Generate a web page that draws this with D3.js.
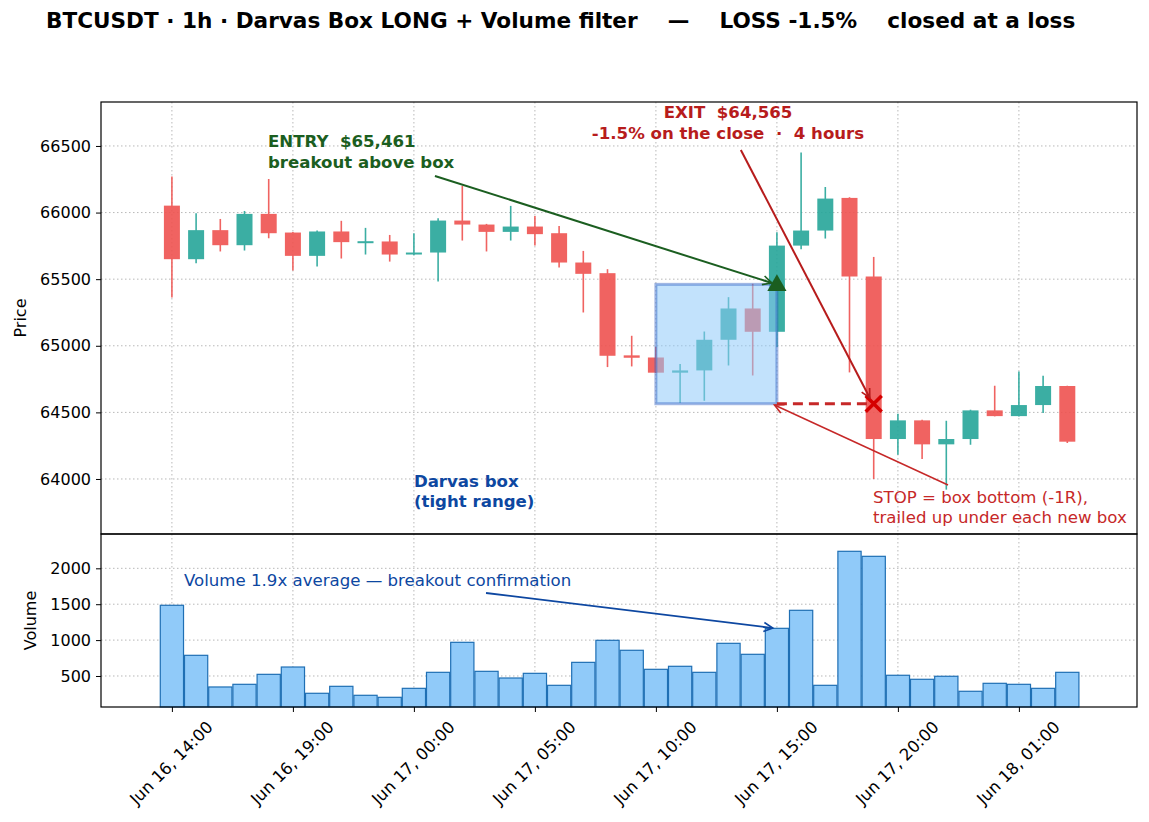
<!DOCTYPE html>
<html>
<head>
<meta charset="utf-8">
<script src="https://cdn.jsdelivr.net/npm/d3@7"></script>
<style>
  body { margin: 0; background: #fff; }
  svg { font-family: 'DejaVu Sans', sans-serif; }
</style>
</head>
<body>
<div id="chart"></div>
<script>
// hourly candles, Jun 16 14:00 -> Jun 18 03:00
const opens  = [66052, 65650, 65868, 65755, 65990, 65850, 65675, 65858, 65778, 65783,
                65685, 65700, 65940, 65910, 65855, 65895, 65845, 65625, 65545, 64928,
                64912, 64798, 64815, 65045, 65280, 65105, 65752, 65865, 66110, 65520,
                64300, 64440, 64260, 64300, 64515, 64472, 64555, 64698];
const highs  = [66270, 65995, 65952, 66012, 66252, 65855, 65865, 65938, 65885, 65832,
                65845, 65957, 66200, 65915, 66050, 65975, 65900, 65712, 65575, 65075,
                64990, 64863, 65107, 65365, 65465, 65852, 66450, 66192, 66115, 65667,
                64490, 64445, 64437, 64520, 64700, 64807, 64775, 64700];
const lows   = [65362, 65620, 65708, 65715, 65807, 65565, 65595, 65655, 65685, 65632,
                65680, 65482, 65790, 65708, 65790, 65752, 65588, 65250, 64840, 64845,
                64795, 64570, 64587, 64852, 64777, 64990, 65725, 65805, 64800, 64000,
                64182, 64150, 63920, 64257, 64470, 64470, 64495, 64270];
const closes = [65650, 65868, 65755, 65990, 65845, 65675, 65858, 65778, 65785, 65685,
                65700, 65940, 65910, 65855, 65895, 65838, 65625, 65540, 64925, 64910,
                64798, 64815, 65045, 65280, 65105, 65752, 65865, 66105, 65520, 64300,
                64440, 64260, 64300, 64515, 64472, 64555, 64698, 64280];
const volumes = [1485, 788, 347, 384, 523, 625, 259, 356, 231, 203,
                 328, 551, 969, 565, 472, 537, 370, 690, 997, 858,
                 593, 635, 551, 955, 802, 1164, 1415, 370, 2237, 2167,
                 510, 454, 496, 287, 398, 384, 328, 551];

const priceTicks = [64000, 64500, 65000, 65500, 66000, 66500];
const volumeTicks = [500, 1000, 1500, 2000];

// trade
const boxStart = 20, boxEnd = 25;          // candle indexes
const boxTop = 65461, boxBottom = 64565;
const entryIndex = 25, entryPrice = 65461;
const exitIndex = 29, exitPrice = 64565;

const title = 'BTCUSDT · 1h · Darvas Box LONG + Volume filter    —    LOSS -1.5%    closed at a loss';

const width = 1149, height = 822;
const pane = {left: 101, right: 1137, top: 102, split: 534, bottom: 707};

const startTime = new Date(2024, 5, 16, 14);
const hours = opens.map((d, i) => d3.timeHour.offset(startTime, i));
const hourAt = i => new Date(startTime.getTime() + i * 3600e3);

const candles = hours.map((t, i) => ({t, o: opens[i], h: highs[i], l: lows[i], c: closes[i], v: volumes[i]}));

const x = d3.scaleTime()
  .domain([hourAt(-2.93), hourAt(39.88)])
  .range([pane.left, pane.right]);
const yPrice = d3.scaleLinear().domain([63587, 66830]).range([pane.split, pane.top]);
const yVol = d3.scaleLinear().domain([68, 2478]).range([pane.bottom, pane.split]);

const hourPx = x(hourAt(1)) - x(hourAt(0));
const tickTimes = hours.filter((d, i) => i % 5 === 0);

const svg = d3.select('#chart').append('svg').attr('width', width).attr('height', height);

const defs = svg.append('defs');
const arrowHead = (id, color) => defs.append('marker')
  .attr('id', id).attr('viewBox', '-10 -6 12 12')
  .attr('markerWidth', 12).attr('markerHeight', 12)
  .attr('markerUnits', 'userSpaceOnUse')
  .attr('orient', 'auto')
  .append('path').attr('d', 'M-9,-4.5 L0,0 L-9,4.5')
  .attr('fill', 'none').attr('stroke', color).attr('stroke-width', 1.6);
arrowHead('ah-green', '#1b5e20');
arrowHead('ah-red', '#b71c1c');
arrowHead('ah-red2', '#c62828');
arrowHead('ah-blue', '#0d47a1');

// title
svg.append('text')
  .attr('x', 46).attr('y', 28)
  .style('white-space', 'pre')
  .attr('font-size', 21.6).attr('font-weight', 'bold')
  .text(title);

// grids
const grid = svg.append('g').attr('stroke', '#b8b8b8').attr('stroke-width', 1).attr('stroke-dasharray', '1.5,2.5');
grid.selectAll('.gx').data(tickTimes).enter().append('line')
  .attr('x1', d => x(d)).attr('x2', d => x(d)).attr('y1', pane.top).attr('y2', pane.bottom);
grid.selectAll('.gp').data(priceTicks).enter().append('line')
  .attr('x1', pane.left).attr('x2', pane.right).attr('y1', d => yPrice(d)).attr('y2', d => yPrice(d));
grid.selectAll('.gv').data(volumeTicks).enter().append('line')
  .attr('x1', pane.left).attr('x2', pane.right).attr('y1', d => yVol(d)).attr('y2', d => yVol(d));

// candles
const green = '#26a69a', red = '#ef5350';
const candleG = svg.append('g').attr('opacity', 0.9);
candleG.selectAll('line').data(candles).enter().append('line')
  .attr('x1', d => x(d.t)).attr('x2', d => x(d.t))
  .attr('y1', d => yPrice(d.h)).attr('y2', d => yPrice(d.l))
  .attr('stroke', d => d.c >= d.o ? green : red).attr('stroke-width', 1.6);
candleG.selectAll('rect').data(candles).enter().append('rect')
  .attr('x', d => x(d.t) - 8)
  .attr('width', 16)
  .attr('y', d => yPrice(Math.max(d.o, d.c)))
  .attr('height', d => Math.max(2, Math.abs(yPrice(d.o) - yPrice(d.c))))
  .attr('fill', d => d.c >= d.o ? green : red);

// darvas box
svg.append('rect')
  .attr('x', x(hours[boxStart])).attr('y', yPrice(boxTop))
  .attr('width', x(hours[boxEnd]) - x(hours[boxStart]))
  .attr('height', yPrice(boxBottom) - yPrice(boxTop))
  .attr('fill', '#90caf9').attr('fill-opacity', 0.55)
  .attr('stroke', '#2f5fc4').attr('stroke-opacity', 0.45).attr('stroke-width', 3);

// stop line
svg.append('line')
  .attr('x1', x(hours[boxEnd])).attr('x2', x(hours[exitIndex]))
  .attr('y1', yPrice(boxBottom)).attr('y2', yPrice(boxBottom))
  .attr('stroke', '#c62828').attr('stroke-width', 3).attr('stroke-dasharray', '10,6');

// volume bars
svg.append('g').selectAll('rect').data(candles).enter().append('rect')
  .attr('x', d => x(d.t) - hourPx * 0.48)
  .attr('width', hourPx * 0.96)
  .attr('y', d => yVol(d.v))
  .attr('height', d => pane.bottom - yVol(d.v))
  .attr('fill', '#90caf9').attr('stroke', '#1f6fb4').attr('stroke-width', 1.2);

// entry / exit markers
svg.append('path')
  .attr('d', d3.symbol(d3.symbolTriangle, 160))
  .attr('transform', `translate(${x(hours[entryIndex])},${yPrice(entryPrice) + 1})`)
  .attr('fill', '#1b5e20');
const ex = x(hours[exitIndex]), ey = yPrice(exitPrice);
svg.append('path')
  .attr('d', `M${ex - 8},${ey - 8}L${ex + 8},${ey + 8}M${ex - 8},${ey + 8}L${ex + 8},${ey - 8}`)
  .attr('stroke', '#d50000').attr('stroke-width', 3.5);

// annotations
const arrow = (x1, y1, x2, y2, color, id, w) => svg.append('line')
  .attr('x1', x1).attr('y1', y1).attr('x2', x2).attr('y2', y2)
  .attr('stroke', color).attr('stroke-width', w).attr('marker-end', `url(#${id})`);
const label = (px, py, lines, color, bold, anchor) => {
  const t = svg.append('text').attr('x', px).attr('y', py)
    .attr('fill', color).attr('font-size', 16.6)
    .attr('font-weight', bold ? 'bold' : 'normal')
    .attr('text-anchor', anchor || 'start')
    .style('white-space', 'pre');
  lines.forEach((s, i) => t.append('tspan').attr('x', px).attr('dy', i ? 20.5 : 0).text(s));
};

label(x(hourAt(3.97)), yPrice(66492), ['ENTRY  $65,461', 'breakout above box'], '#1b5e20', true);
arrow(x(hourAt(10.87)), yPrice(66275), x(hourAt(24.79)), yPrice(65471), '#1b5e20', 'ah-green', 2);

label(x(hourAt(22.98)), yPrice(66708), ['EXIT  $64,565', '-1.5% on the close  ·  4 hours'], '#b71c1c', true, 'middle');
arrow(x(hourAt(23.51)), yPrice(66470), x(hourAt(28.84)), yPrice(64608), '#b71c1c', 'ah-red', 2);

label(x(hourAt(28.97)), yPrice(63820), ['STOP = box bottom (-1R),', 'trailed up under each new box'], '#c62828', false);
arrow(x(hourAt(32.07)), yPrice(63955), x(hourAt(24.9)), yPrice(64555), '#c62828', 'ah-red2', 1.5);

label(x(hours[10]), yPrice(63942), ['Darvas box', '(tight range)'], '#0d47a1', true);

label(x(hourAt(0.5)), yVol(1750), ['Volume 1.9x average — breakout confirmation'], '#0d47a1', false);
arrow(x(hourAt(12.98)), yVol(1656), x(hourAt(24.83)), yVol(1168), '#0d47a1', 'ah-blue', 1.8);

// axes
const priceAxis = g => g
  .attr('transform', `translate(${pane.left},0)`)
  .call(d3.axisLeft(yPrice).tickValues(priceTicks).tickFormat(d3.format('d')).tickSizeOuter(0).tickSize(5).tickPadding(5))
  .call(g => g.select('.domain').remove())
  .call(g => g.selectAll('text').attr('font-size', 16).attr('fill', '#000'));
const volAxis = g => g
  .attr('transform', `translate(${pane.left},0)`)
  .call(d3.axisLeft(yVol).tickValues(volumeTicks).tickFormat(d3.format('d')).tickSizeOuter(0).tickSize(5).tickPadding(5))
  .call(g => g.select('.domain').remove())
  .call(g => g.selectAll('text').attr('font-size', 16).attr('fill', '#000'));
const timeAxis = g => g
  .attr('transform', `translate(0,${pane.bottom})`)
  .call(d3.axisBottom(x).tickValues(tickTimes).tickFormat(d3.timeFormat('%b %d, %H:%M')).tickSizeOuter(0).tickSize(5))
  .call(g => g.select('.domain').remove())
  .call(g => g.selectAll('text')
    .attr('font-size', 16.4).attr('fill', '#000')
    .attr('y', 0).attr('dy', 0)
    .attr('text-anchor', 'middle').attr('dominant-baseline', 'central')
    .attr('transform', 'translate(-1,56) rotate(-45)'));

svg.append('g').call(priceAxis).attr('font-family', 'DejaVu Sans');
svg.append('g').call(volAxis).attr('font-family', 'DejaVu Sans');
svg.append('g').call(timeAxis).attr('font-family', 'DejaVu Sans');

// frames
svg.append('rect').attr('x', pane.left).attr('y', pane.top)
  .attr('width', pane.right - pane.left).attr('height', pane.split - pane.top)
  .attr('fill', 'none').attr('stroke', '#000').attr('stroke-width', 1.2);
svg.append('rect').attr('x', pane.left).attr('y', pane.split)
  .attr('width', pane.right - pane.left).attr('height', pane.bottom - pane.split)
  .attr('fill', 'none').attr('stroke', '#000').attr('stroke-width', 1.2);

svg.append('text').attr('transform', `translate(26,${(pane.top + pane.split) / 2}) rotate(-90)`)
  .attr('text-anchor', 'middle').attr('font-size', 16).text('Price');
svg.append('text').attr('transform', `translate(36,${(pane.split + pane.bottom) / 2}) rotate(-90)`)
  .attr('text-anchor', 'middle').attr('font-size', 16).text('Volume');
</script>
</body>
</html>
